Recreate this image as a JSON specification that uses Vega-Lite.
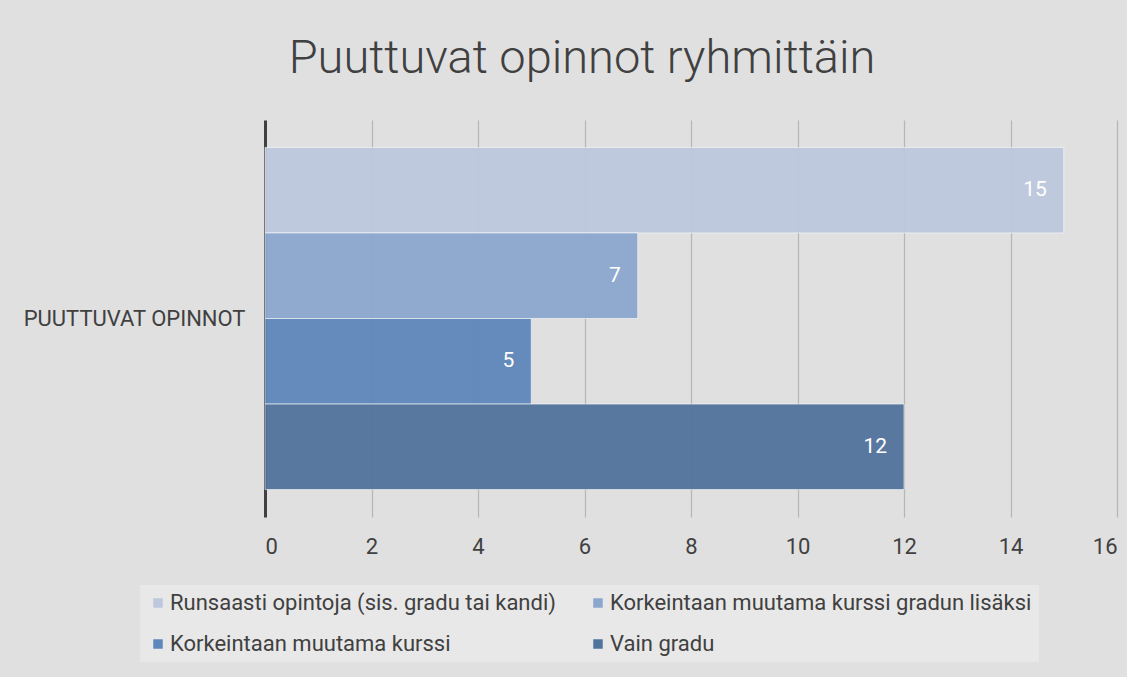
{
  "$schema": "https://vega.github.io/schema/vega-lite/v6.json",
  "width": 852,
  "height": 397,
  "padding": {"left": 10, "top": 35, "right": 10, "bottom": 22},
  "background": "#e0e0e0",
  "title": {
    "text": "Puuttuvat opinnot ryhmittäin",
    "font": "Roboto",
    "fontSize": 47,
    "fontWeight": 300,
    "color": "#404040",
    "anchor": "middle",
    "frame": "group",
    "dx": -109,
    "offset": 37
  },
  "data": {
    "values": [
      {"kategoria": "PUUTTUVAT OPINNOT", "sarja": "Runsaasti opintoja (sis. gradu tai kandi)", "arvo": 15},
      {"kategoria": "PUUTTUVAT OPINNOT", "sarja": "Korkeintaan muutama kurssi gradun lisäksi", "arvo": 7},
      {"kategoria": "PUUTTUVAT OPINNOT", "sarja": "Korkeintaan muutama kurssi", "arvo": 5},
      {"kategoria": "PUUTTUVAT OPINNOT", "sarja": "Vain gradu", "arvo": 12}
    ]
  },
  "encoding": {
    "y": {
      "field": "kategoria",
      "type": "nominal",
      "scale": {"paddingInner": 0, "paddingOuter": 0.08},
      "axis": {
        "title": null,
        "domain": true,
        "domainColor": "#404040",
        "domainWidth": 3,
        "ticks": false,
        "grid": false,
        "labelFont": "Roboto",
        "labelFontSize": 22,
        "labelColor": "#404040",
        "labelPadding": 20,
        "labelLimit": 400,
        "minExtent": 255,
        "maxExtent": 255
      }
    },
    "yOffset": {
      "field": "sarja",
      "type": "nominal",
      "sort": ["Runsaasti opintoja (sis. gradu tai kandi)", "Korkeintaan muutama kurssi gradun lisäksi", "Korkeintaan muutama kurssi", "Vain gradu"],
      "scale": {"paddingInner": 0, "paddingOuter": 0}
    },
    "x": {
      "field": "arvo",
      "type": "quantitative",
      "scale": {"domain": [0, 16], "nice": false},
      "axis": {
        "title": null,
        "values": [0, 2, 4, 6, 8, 10, 12, 14, 16],
        "domain": false,
        "ticks": false,
        "grid": true,
        "gridColor": "#9a9a9a",
        "gridOpacity": 0.6,
        "gridWidth": 1.2,
        "labelFont": "Roboto",
        "labelFontSize": 22,
        "labelColor": "#404040",
        "labelPadding": 19
      }
    }
  },
  "layer": [
    {
      "mark": {"type": "bar", "stroke": "#ffffff", "strokeWidth": 1, "strokeOpacity": 0.6, "opacity": 0.95},
      "encoding": {
        "color": {
          "field": "sarja",
          "type": "nominal",
          "scale": {
            "domain": ["Runsaasti opintoja (sis. gradu tai kandi)", "Korkeintaan muutama kurssi gradun lisäksi", "Korkeintaan muutama kurssi", "Vain gradu"],
            "range": ["#bdc8de", "#8ca7ce", "#5e87bb", "#52739c"]
          },
          "legend": {
            "title": null,
            "orient": "none",
            "legendX": -125,
            "legendY": 465,
            "direction": "horizontal",
            "columns": 2,
            "columnPadding": 31,
            "rowPadding": 19,
            "padding": 7,
            "fillColor": "#e8e8e8",
            "symbolType": "square",
            "symbolSize": 90,
            "symbolStrokeWidth": 0,
            "symbolOpacity": 1,
            "labelFont": "Roboto",
            "labelFontSize": 22,
            "labelColor": "#404040",
            "labelOffset": 1,
            "labelLimit": 500
          }
        }
      }
    },
    {
      "mark": {"type": "text", "align": "right", "baseline": "middle", "dx": -17, "color": "#ffffff", "font": "Roboto", "fontSize": 21},
      "encoding": {
        "text": {"field": "arvo", "type": "quantitative"}
      }
    }
  ],
  "config": {
    "view": {"stroke": null}
  }
}
